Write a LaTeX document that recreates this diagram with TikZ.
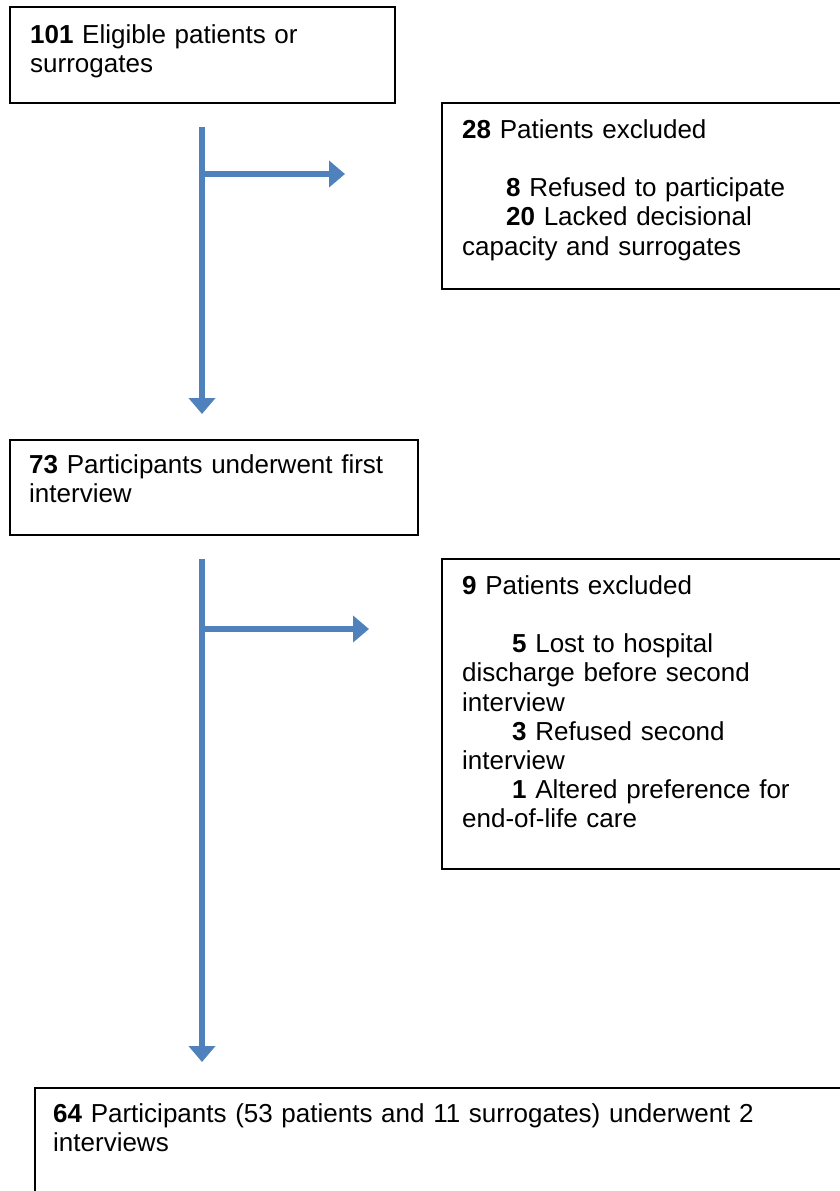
\documentclass[tikz,border=0pt]{standalone}
\usepackage{fontspec}
\setmainfont{Liberation Sans}
\usepackage{tikz}
\usetikzlibrary{arrows.meta}
\usetikzlibrary{positioning}
\definecolor{flowblue}{RGB}{79,129,189}
\tikzset{>=latex}
\tikzset{
    box/.style={draw=black, line width=1.6pt, anchor=north west, inner sep=0pt},
    txt/.style={anchor=north west, inner sep=0pt, align=left, font=\fontsize{26pt}{29.2pt}\selectfont},
    flow/.style={draw=flowblue, line width=5.5pt, -{Triangle[width=26pt,length=16pt]}}
}
\setlength{\parindent}{0pt}
\newcommand{\firstline}{\rule{0pt}{20pt}}

\begin{document}
\begin{tikzpicture}[x=1pt,y=-1pt]
    \useasboundingbox (0,0) rectangle (840,1191);
    % boxes
    \node[box, minimum width=385pt, minimum height=96pt] (elig) at (9,6) {};
    \node[box, minimum width=420pt, minimum height=186pt] (excla) at (441,102) {};
    \node[box, minimum width=408pt, minimum height=95pt] (first) at (9,439) {};
    \node[box, minimum width=420pt, minimum height=310pt] (exclb) at (441,558) {};
    \node[box, minimum width=840pt, minimum height=140pt] (final) at (34,1087) {};
    % texts
    \node[txt, text width=360pt, below right=17pt and 21pt of elig.north west] (eligtext) {\firstline\textbf{101} Eligible patients or\\surrogates};
    \node[txt, text width=380pt, below right=16pt and 21pt of excla.north west] (exclatext) {\firstline\textbf{28} Patients excluded\\[29.2pt]
        \hspace*{44pt}\textbf{8} Refused to participate\\
        \hspace*{44pt}\textbf{20} Lacked decisional\\
        capacity and surrogates};
    \node[txt, text width=385pt, below right=14pt and 20pt of first.north west] (firsttext) {\firstline\textbf{73} Participants underwent first\\interview};
    \node[txt, text width=380pt, below right=16pt and 21pt of exclb.north west] (exclbtext) {\firstline\textbf{9} Patients excluded\\[29.2pt]
        \hspace*{50pt}\textbf{5} Lost to hospital\\
        discharge before second\\
        interview\\
        \hspace*{50pt}\textbf{3} Refused second\\
        interview\\
        \hspace*{50pt}\textbf{1} Altered preference for\\
        end-of-life care};
    \node[txt, text width=780pt, below right=15pt and 19pt of final.north west] (finaltext) {\firstline\textbf{64} Participants (53 patients and 11 surrogates) underwent 2\\interviews};
    % arrows
    \coordinate (flowatop) at (202,127);
    \coordinate (flowaturn) at (202,174);
    \coordinate (flowaend) at (202,414);
    \coordinate (flowaside) at (345,174);
    \coordinate (flowbtop) at (202,559);
    \coordinate (flowbturn) at (202,629);
    \coordinate (flowbend) at (202,1062);
    \coordinate (flowbside) at (369,629);
    \draw[flow] (flowatop) -- (flowaend);
    \draw[flow] (flowaturn) -- (flowaside);
    \draw[flow] (flowbtop) -- (flowbend);
    \draw[flow] (flowbturn) -- (flowbside);
\end{tikzpicture}
\end{document}
